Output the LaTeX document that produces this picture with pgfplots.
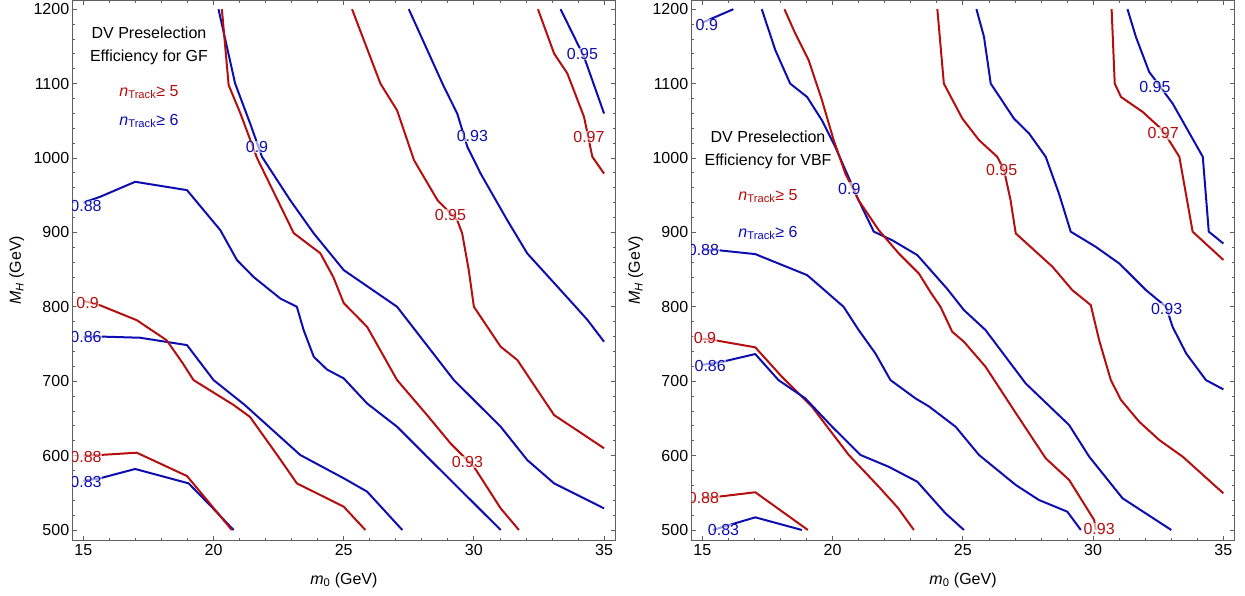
\documentclass[border=0pt]{standalone}
\usepackage{fontspec}
\setmainfont{Liberation Sans}
\usepackage{pgfplots}
\pgfplotsset{compat=1.18}
\definecolor{cred}{RGB}{180,14,14}
\definecolor{cblue}{RGB}{14,14,176}
\definecolor{frame}{RGB}{95,95,95}
\tikzset{
  rl/.style={cred, line width=2pt, line join=round},
  bl/.style={cblue, line width=2pt, line join=round},
  lab/.style={font=\fontsize{16}{18}\selectfont, fill=white, fill opacity=0.6, text opacity=1, inner sep=0.5pt},
}
\pgfplotsset{
 panel/.style={
  scale only axis, height=540.5pt,
  xmin=14.59, xmax=35.42, ymin=485.6, ymax=1212.1,
  xtick={15,20,25,30,35}, ytick={500,600,...,1200},
  minor x tick num=4, minor y tick num=4,
  tick align=inside, major tick length=4.5pt, minor tick length=2.5pt,
  axis line style={frame, line width=0.9pt},
  tick style={frame, line width=0.8pt},
  tick label style={font=\fontsize{16}{18}\selectfont, black},
  /pgf/number format/assume math mode=true,
  /pgf/number format/1000 sep={},
  label style={font=\fontsize{16}{18}\selectfont},
  xlabel={\textit{m}\textsubscript{0} (GeV)},
  ylabel={\textit{M}\textsubscript{\textit{H}} (GeV)},
  xlabel style={at={(axis description cs:0.5,-0.0727)}, anchor=center},
  ylabel style={at={(axis description cs:-0.103,0.5)}, anchor=center},
 }
}
\begin{document}
\begin{tikzpicture}
\path[use as bounding box] (0,0) rectangle (1245pt,596pt);
% ================= LEFT: GF =================
\begin{axis}[panel, width=542.3pt, at={(72.7pt,55.3pt)}, anchor=south west]
% blue 0.83
\addplot[bl] coordinates {(15,566) (15.64,569.5) (16.99,582) (19.04,562.7) (19.9,532) (20.77,500)};
% red 0.88
\addplot[rl] coordinates {(15,600) (15.64,600.8) (17.05,603.9) (18.98,572.5) (19.8,538) (20.7,500)};
% blue 0.86
\addplot[bl] coordinates {(15,760) (15.64,760) (17.18,758.4) (18.98,748.5) (20.0,701.5) (21.2,668) (23.33,600.8) (25.0,569.5) (25.9,551.5) (27.25,500)};
% red 0.9
\addplot[rl] coordinates {(15,808) (15.64,802) (17.05,782) (18.2,755) (18.8,725) (19.23,701.5) (20.77,668) (21.4,652) (22.5,598) (23.2,562.7) (25.0,531.3) (25.83,500)};
% blue 0.88
\addplot[bl] coordinates {(15,940) (15.64,947.8) (16.99,968) (18.98,956.8) (20.26,903) (20.9,862.8) (21.54,840) (22.57,811) (23.2,800) (23.3,788) (23.46,768.7) (23.85,732.8) (24.36,715.6) (25.0,703.8) (25.9,670) (27.05,638.8) (28.2,598.5) (29.23,562.7) (31.03,500)};
% blue 0.9
\addplot[bl] coordinates {(20.19,1200) (20.83,1100) (21.41,1046) (21.86,1001.6) (22.95,943) (23.85,898.6) (25.0,849.3) (27.05,800) (29.23,701.5) (31.03,638.8) (32.05,594) (33.08,562.7) (35,529)};
% red 0.93
\addplot[rl] coordinates {(20.32,1200) (20.58,1098) (21.03,1060) (21.67,1000) (23.08,899) (24.1,872) (24.6,840) (25.0,805) (25.9,773) (27.05,701.5) (28.2,654.5) (29.1,616.5) (30.0,585) (31.03,529) (31.73,500)};
% red 0.95
\addplot[rl] coordinates {(25.32,1200) (26.41,1100) (27.05,1064) (27.7,997) (28.6,943.4) (29.36,916.5) (29.55,898.6) (29.8,850) (30.0,800) (31.03,746.3) (31.67,728.4) (33.08,654.5) (35.0,609.8)};
% blue 0.93
\addplot[bl] coordinates {(27.5,1200) (28.85,1095.6) (29.36,1059.8) (29.75,1015) (30.26,979) (31.28,916.5) (32.05,871.7) (33.33,822.4) (33.85,802.3) (34.37,782) (35.0,753)};
% red 0.97
\addplot[rl] coordinates {(32.46,1200) (33.08,1140.5) (33.59,1113.6) (34.23,1055.3) (34.55,1001.6) (35.0,979)};
% blue 0.95
\addplot[bl] coordinates {(33.33,1200) (34.23,1136) (35.0,1059.8)};
% contour labels
\node[lab, text=cblue] at (axis cs:15.1,935) {0.88};
\node[lab, text=cred] at (axis cs:15.16,804.6) {0.9};
\node[lab, text=cblue] at (axis cs:15.1,759.7) {0.86};
\node[lab, text=cred] at (axis cs:15.1,598.5) {0.88};
\node[lab, text=cblue] at (axis cs:15.1,565) {0.83};
\node[lab, text=cblue] at (axis cs:21.67,1015) {0.9};
\node[lab, text=cblue] at (axis cs:29.94,1030) {0.93};
\node[lab, text=cred] at (axis cs:29.1,923) {0.95};
\node[lab, text=cred] at (axis cs:29.75,591.8) {0.93};
\node[lab, text=cred] at (axis cs:34.42,1028) {0.97};
\node[lab, text=cblue] at (axis cs:34.17,1140) {0.95};
% legend text
\node[align=center, font=\fontsize{16}{23}\selectfont] at (axis cs:17.52,1151) {DV Preselection\\Efficiency for GF};
\node[text=cred, font=\fontsize{16}{18}\selectfont] at (axis cs:17.52,1088.5) {\textit{n}\textsubscript{Track}≥ 5};
\node[text=cblue, font=\fontsize{16}{18}\selectfont] at (axis cs:17.52,1049.5) {\textit{n}\textsubscript{Track}≥ 6};
\end{axis}
% ================= RIGHT: VBF =================
\begin{axis}[panel, width=542.6pt, at={(691.7pt,55.3pt)}, anchor=south west]
% blue 0.9 (top-left piece)
\addplot[bl] coordinates {(15,1182) (16.19,1200)};
% blue 0.9 main
\addplot[bl] coordinates {(17.28,1200) (17.8,1145) (18.37,1100) (19.02,1082) (19.59,1050.6) (20.1,1015) (20.55,979) (21.0,943) (21.58,901) (22.28,889.6) (23.25,869.5) (24.4,824) (25.04,795.6) (25.87,768.7) (27.41,697) (29.08,641) (29.85,598.5) (31.13,542.6) (33.0,500)};
% red 0.93
\addplot[rl] coordinates {(18.15,1200) (18.57,1167) (19.08,1131.5) (19.59,1077.7) (20.04,1024) (20.49,979) (21.0,943) (21.77,903) (22.54,871.7) (23.31,844.8) (23.75,820) (24.14,800) (24.59,766.5) (25.04,753) (25.87,719.4) (26.96,661) (28.18,596.3) (29.08,567.2) (30.04,513.4) (30.1,500)};
% blue 0.93
\addplot[bl] coordinates {(25.52,1200) (25.81,1163) (26.07,1100) (26.96,1053) (27.54,1033) (28.18,1001.6) (28.69,952) (29.14,901) (30.1,880.6) (31.0,858.3) (31.52,840.3) (32.03,822.4) (32.8,800) (33.05,773.1) (33.57,737.4) (34.33,701.5) (35.0,689)};
% red 0.95
\addplot[rl] coordinates {(24.02,1200) (24.27,1100) (24.98,1053) (25.62,1024) (26.32,1001.6) (26.58,983.7) (26.83,943.4) (27.03,898.6) (28.44,853.8) (29.2,822.4) (29.91,802.3) (30.23,755.3) (30.68,701.5) (31.07,674.7) (31.77,645.5) (32.54,620.9) (33.44,598.5) (35.0,549.3)};
% red 0.97
\addplot[rl] coordinates {(30.71,1200) (30.83,1100) (31.07,1082) (31.9,1062) (32.67,1037.4) (33.31,1001.6) (33.82,901) (35.0,863)};
% blue 0.95
\addplot[bl] coordinates {(31.32,1200) (31.64,1163) (32.15,1115.8) (33.05,1073.4) (34.21,1001.6) (34.44,901) (35.0,885)};
% red 0.9
\addplot[rl] coordinates {(15,757) (15.49,755) (17.03,745.5) (18.05,706) (19.2,666) (20.62,600.8) (21.77,558.2) (22.5,530) (23.12,500)};
% blue 0.86
\addplot[bl] coordinates {(15,722) (15.75,726) (17.03,736.5) (17.92,701.5) (18.95,676.9) (19.98,638.8) (21.07,600.8) (22.15,585) (23.25,564.9) (24.33,522.5) (25.04,500)};
% red 0.88
\addplot[rl] coordinates {(15,543) (15.62,544.8) (17.03,550.7) (19.05,500)};
% blue 0.83
\addplot[bl] coordinates {(15.4,500) (16.26,509) (17.03,517) (18.82,500)};
% blue 0.88
\addplot[bl] coordinates {(15,876) (15.62,876) (17.03,870.8) (19.02,842.6) (19.7,822) (20.42,800) (21.0,768.7) (21.64,737.4) (22.22,701.5) (23.18,676.9) (23.7,666) (24.72,638.8) (25.62,600.8) (27.03,560.5) (27.92,540.3) (29.01,524.6) (29.53,500)};
% contour labels
\node[lab, text=cblue] at (axis cs:15.17,1178.5) {0.9};
\node[lab, text=cblue] at (axis cs:15.04,876) {0.88};
\node[lab, text=cred] at (axis cs:15.1,757.5) {0.9};
\node[lab, text=cblue] at (axis cs:15.3,720.3) {0.86};
\node[lab, text=cred] at (axis cs:15.04,542.6) {0.88};
\node[lab, text=cblue] at (axis cs:15.81,500) {0.83};
\node[lab, text=cblue] at (axis cs:20.64,959) {0.9};
\node[lab, text=cred] at (axis cs:26.49,983.7) {0.95};
\node[lab, text=cred] at (axis cs:32.69,1033) {0.97};
\node[lab, text=cblue] at (axis cs:32.37,1096) {0.95};
\node[lab, text=cblue] at (axis cs:32.82,796.5) {0.93};
\node[lab, text=cred] at (axis cs:30.23,501) {0.93};
% legend text
\node[align=center, font=\fontsize{16}{23}\selectfont] at (axis cs:17.52,1010.5) {DV Preselection\\Efficiency for VBF};
\node[text=cred, font=\fontsize{16}{18}\selectfont] at (axis cs:17.52,948.7) {\textit{n}\textsubscript{Track}≥ 5};
\node[text=cblue, font=\fontsize{16}{18}\selectfont] at (axis cs:17.52,899) {\textit{n}\textsubscript{Track}≥ 6};
\end{axis}
\end{tikzpicture}
\end{document}
